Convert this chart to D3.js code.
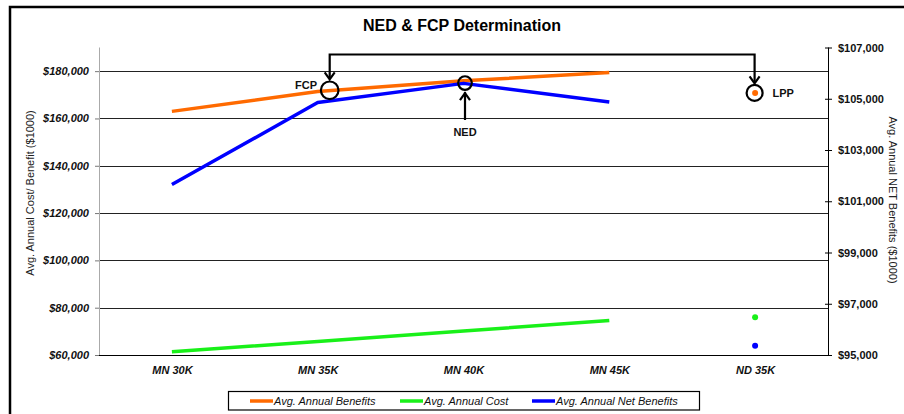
<!DOCTYPE html>
<html>
<head>
<meta charset="utf-8">
<script src="https://cdn.jsdelivr.net/npm/d3@7"></script>
<style>
  html, body { margin: 0; padding: 0; background: #fff; }
  svg { display: block; font-family: Arial, "Liberation Sans", sans-serif; }
</style>
</head>
<body>
<svg id="chart" width="904" height="414"></svg>
<script>
// ---- data ----
const categories = ["MN 30K", "MN 35K", "MN 40K", "MN 45K", "ND 35K"];
const benefits   = [163000, 171400, 175900, 179400, 170800];   // left axis
const costs      = [61400, 65700, 70100, 74600, 76000];         // left axis
const netBenefits = [101650, 104850, 105600, 104870, 95360];    // right axis
const leftTicks  = [60000, 80000, 100000, 120000, 140000, 160000, 180000];
const rightTicks = [95000, 97000, 99000, 101000, 103000, 105000, 107000];
const lineCount = 4; // first four categories are joined by lines, the last is a point

const W = 904, H = 414;
const m = { left: 99, right: 828, top: 47.5, bottom: 355 };
const svg = d3.select("#chart");

// frame
svg.append("path").attr("d", `M10,${H + 5} L10,7 L${W + 5},7`)
  .attr("fill", "none").attr("stroke", "#000").attr("stroke-width", 2.5);

const x = d3.scalePoint().domain(categories).range([m.left, m.right]).padding(0.5);
const yL = d3.scaleLinear().domain([60000, 190000]).range([m.bottom, m.top]);
const yR = d3.scaleLinear().domain([95000, 107000]).range([m.bottom, m.top]);
const fmt = v => "$" + d3.format(",")(v);

// gridlines
svg.append("g").selectAll("line").data(leftTicks.slice(1)).join("line")
  .attr("x1", m.left).attr("x2", m.right)
  .attr("y1", d => Math.round(yL(d)) + 0.5).attr("y2", d => Math.round(yL(d)) + 0.5)
  .attr("stroke", "#222").attr("stroke-width", 1);

// left axis
const gL = svg.append("g").attr("transform", `translate(${m.left},0)`)
  .call(d3.axisLeft(yL).tickValues(leftTicks).tickFormat(fmt).tickSize(4).tickPadding(6));
gL.select(".domain").attr("stroke", "#aaa").attr("d", `M0.5,${m.top}V${m.bottom}`);
gL.selectAll(".tick line").attr("stroke", "#777");
gL.selectAll(".tick text").attr("font-size", 11).attr("font-weight", "bold")
  .attr("font-style", "italic").attr("fill", "#111").attr("font-family", "Arial, 'Liberation Sans', sans-serif");

// right axis
const gR = svg.append("g").attr("transform", `translate(${m.right},0)`)
  .call(d3.axisRight(yR).tickValues(rightTicks).tickFormat(fmt).tickSize(4).tickPadding(6));
gR.select(".domain").attr("stroke", "#000").attr("d", `M0.5,${m.top}V${m.bottom}`);
gR.selectAll(".tick line").attr("stroke", "#000").attr("x1", -3).attr("x2", 4);
gR.selectAll(".tick text").attr("font-size", 11).attr("font-weight", "bold")
  .attr("fill", "#111").attr("font-family", "Arial, 'Liberation Sans', sans-serif");

// bottom axis
const gB = svg.append("g").attr("transform", `translate(0,${m.bottom})`)
  .call(d3.axisBottom(x).tickSize(0).tickPadding(11));
gB.select(".domain").attr("stroke", "#000").attr("stroke-width", 1.2)
  .attr("d", `M${m.left},0.5H${m.right}`);
gB.selectAll(".tick text").attr("font-size", 11).attr("font-weight", "bold")
  .attr("font-style", "italic").attr("fill", "#111").attr("font-family", "Arial, 'Liberation Sans', sans-serif");

// axis titles
svg.append("text").attr("transform", "translate(34,193) rotate(-90)")
  .attr("text-anchor", "middle").attr("font-size", 11).attr("fill", "#222")
  .text("Avg. Annual Cost/ Benefit ($1000)");
svg.append("text").attr("transform", "translate(889,200) rotate(90)")
  .attr("text-anchor", "middle").attr("font-size", 11).attr("fill", "#222")
  .text("Avg. Annual NET Benefits ($1000)");

// title
svg.append("text").attr("x", 462).attr("y", 31).attr("text-anchor", "middle")
  .attr("font-size", 16).attr("font-weight", "bold").attr("fill", "#000")
  .text("NED & FCP Determination");

// series
const series = [
  { name: "Avg. Annual Benefits", values: benefits, y: yL, color: "#ff6a00" },
  { name: "Avg. Annual Cost", values: costs, y: yL, color: "#19f019" },
  { name: "Avg. Annual Net Benefits", values: netBenefits, y: yR, color: "#0000ff" }
];
const line = d3.line();
series.forEach(s => {
  const pts = categories.slice(0, lineCount).map((c, i) => [x(c), s.y(s.values[i])]);
  svg.append("path").attr("d", line(pts)).attr("fill", "none")
    .attr("stroke", s.color).attr("stroke-width", 3.5).attr("stroke-linejoin", "round");
  const last = categories.length - 1;
  svg.append("circle").attr("cx", x(categories[last])).attr("cy", s.y(s.values[last]))
    .attr("r", 3).attr("fill", s.color);
});

// annotations
const ann = svg.append("g").attr("fill", "none").attr("stroke", "#000").attr("stroke-width", 2.2);
const fcpX = x("MN 35K") + 12, fcpY = yL(171900);
const nedX = x("MN 40K") + 1.5, nedY = yR(105600) - 0.3;
const lppX = x("ND 35K") - 0.5, lppY = yL(benefits[4]);
const topY = 54.5;
ann.append("path").attr("d", `M${fcpX},${fcpY - 12}V${topY}H${lppX}V${lppY - 10}`);
// arrowheads down
[[fcpX, fcpY - 11], [lppX, lppY - 9.5]].forEach(([ax, ay]) => {
  ann.append("path").attr("d", `M${ax - 5},${ay - 7}L${ax},${ay}L${ax + 5},${ay - 7}`);
});
ann.append("circle").attr("cx", fcpX).attr("cy", fcpY).attr("r", 8.8);
ann.append("circle").attr("cx", lppX).attr("cy", lppY).attr("r", 8);
ann.append("circle").attr("cx", nedX).attr("cy", nedY).attr("r", 6.8);
// NED arrow up
ann.append("path").attr("d", `M${nedX},120V${nedY + 9}`);
ann.append("path").attr("d", `M${nedX - 5},${nedY + 17}L${nedX},${nedY + 10}L${nedX + 5},${nedY + 17}`);

const lbl = svg.append("g").attr("font-size", 11).attr("font-weight", "bold").attr("fill", "#111");
lbl.append("text").attr("x", 306).attr("y", 88.5).attr("text-anchor", "middle").text("FCP");
lbl.append("text").attr("x", 465).attr("y", 136).attr("text-anchor", "middle").text("NED");
lbl.append("text").attr("x", 772.5).attr("y", 97).text("LPP");

// legend
const lg = svg.append("g");
lg.append("rect").attr("x", 228.5).attr("y", 391.5).attr("width", 471).attr("height", 18.5)
  .attr("fill", "#fff").attr("stroke", "#000").attr("stroke-width", 1.2);
const legX = [250, 400, 532];
series.forEach((s, i) => {
  lg.append("line").attr("x1", legX[i]).attr("x2", legX[i] + 23).attr("y1", 401).attr("y2", 401)
    .attr("stroke", s.color).attr("stroke-width", 3.5);
  lg.append("text").attr("x", legX[i] + 24).attr("y", 405).attr("font-size", 11)
    .attr("font-style", "italic").attr("fill", "#111").text(s.name);
});
</script>
</body>
</html>
